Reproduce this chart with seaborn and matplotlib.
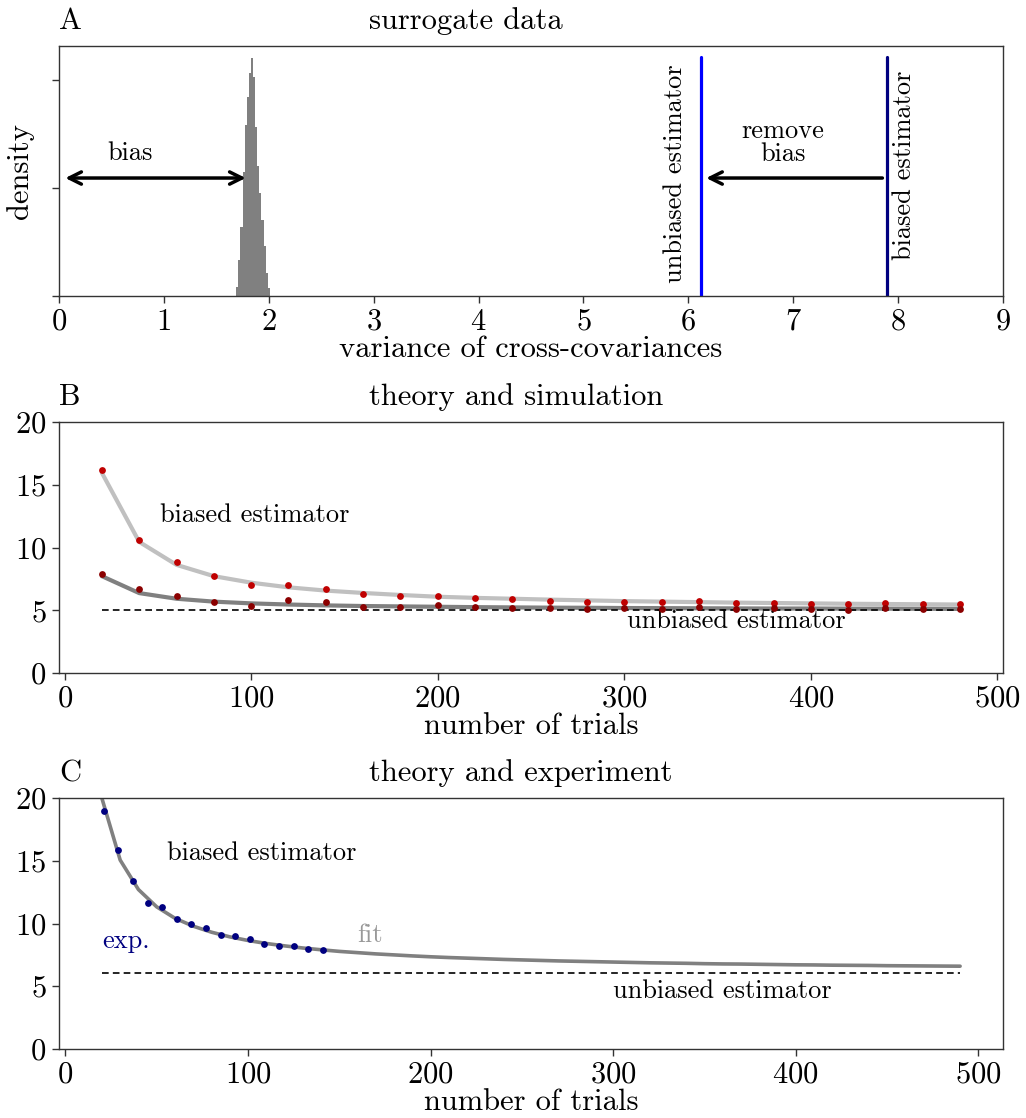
import numpy as np
import pandas as pd
import matplotlib
matplotlib.use('Agg')
import matplotlib.pyplot as plt
import seaborn as sns

# --- panel A: surrogate distribution ---
hist_edges = [1.69, 1.71, 1.73, 1.75, 1.77, 1.79, 1.81, 1.83, 1.85, 1.87,
              1.89, 1.91, 1.93, 1.95, 1.97, 1.99, 2.01]
hist_heights = [0.43, 1.67, 3.2, 5.75, 7.9, 9.2, 10.3, 11.0, 10.15, 7.8,
                6.0, 4.75, 3.5, 2.3, 1.05, 0.35]
unbiased_value = 6.12
biased_value = 7.89

# --- panel B: theory and simulation ---
trials_sim = [20, 40, 60, 80, 100, 120, 140, 160, 180, 200, 220, 240,
              260, 280, 300, 320, 340, 360, 380, 400, 420, 440, 460, 480]
theory_biased = [15.95, 10.45, 8.62, 7.72, 7.2, 6.83, 6.57, 6.38, 6.22, 6.08,
                 5.99, 5.92, 5.85, 5.79, 5.73, 5.69, 5.65, 5.61, 5.58, 5.55,
                 5.52, 5.5, 5.48, 5.46]
theory_second = [7.72, 6.37, 5.92, 5.69, 5.55, 5.46, 5.39, 5.34, 5.31, 5.28,
                 5.25, 5.23, 5.21, 5.2, 5.18, 5.17, 5.16, 5.15, 5.14, 5.14,
                 5.13, 5.13, 5.12, 5.11]
sim_biased = [16.2, 10.64, 8.88, 7.71, 7.05, 7.0, 6.7, 6.27, 6.14, 6.14,
              5.95, 5.88, 5.76, 5.68, 5.7, 5.65, 5.73, 5.58, 5.62, 5.52,
              5.47, 5.55, 5.5, 5.47]
sim_second = [7.92, 6.7, 6.17, 5.66, 5.37, 5.8, 5.66, 5.27, 5.24, 5.4,
              5.24, 5.22, 5.19, 5.07, 5.2, 5.12, 5.29, 5.12, 5.17, 5.12,
              5.05, 5.17, 5.12, 5.1]
sim_unbiased = 5.0

# --- panel C: theory and experiment ---
trials_fit = [20, 30, 40, 50, 60, 70, 80, 90, 100, 110, 120, 130, 140, 150,
              160, 170, 180, 190, 200, 210, 220, 230, 240, 250, 260, 270, 280,
              290, 300, 310, 320, 330, 340, 350, 360, 370, 380, 390, 400, 410,
              420, 430, 440, 450, 460, 470, 480, 490]
fit_values = [19.98, 15.06, 12.71, 11.33, 10.42, 9.79, 9.31, 8.94, 8.65, 8.41,
              8.22, 8.05, 7.91, 7.78, 7.68, 7.58, 7.5, 7.42, 7.35, 7.29, 7.24,
              7.19, 7.14, 7.1, 7.06, 7.02, 6.99, 6.96, 6.93, 6.9, 6.87, 6.85,
              6.83, 6.8, 6.78, 6.77, 6.75, 6.73, 6.71, 6.7, 6.68, 6.67, 6.66,
              6.64, 6.63, 6.62, 6.61, 6.6]
trials_exp = [21, 29, 37, 45, 53, 61, 69, 77, 85, 93, 101, 109, 117, 125, 133, 141]
exp_values = [18.96, 15.88, 13.41, 11.66, 11.29, 10.33, 9.93, 9.64, 9.06, 8.98,
              8.76, 8.39, 8.23, 8.18, 7.94, 7.86]
exp_unbiased = 6.08

sns.set_style('ticks')
plt.rcParams['font.family'] = ['cmr10', 'DejaVu Serif']
plt.rcParams['axes.formatter.use_mathtext'] = True
plt.rcParams['mathtext.fontset'] = 'cm'
plt.rcParams['axes.unicode_minus'] = False
plt.rcParams['text.color'] = 'black'
plt.rcParams['axes.labelcolor'] = 'black'
plt.rcParams['xtick.color'] = 'black'
plt.rcParams['ytick.color'] = 'black'

FS = 22
TXT = 19
TITLE_X = 0.328  # titles start at the same spot in every panel

fig = plt.figure(figsize=(10.26, 11.18), dpi=100)
axA = fig.add_axes([0.0575, 0.7352, 0.9201, 0.2237])
axB = fig.add_axes([0.0575, 0.3980, 0.9201, 0.2245])
axC = fig.add_axes([0.0575, 0.0617, 0.9201, 0.2245])

for ax in (axA, axB, axC):
    for sp in ax.spines.values():
        sp.set_color('#333333')
        sp.set_linewidth(1.0)
    ax.tick_params(labelsize=FS, length=5, width=1, pad=4, color='#333333')

# ---------- A ----------
centers = [(a + b) / 2 for a, b in zip(hist_edges[:-1], hist_edges[1:])]
dfA = pd.DataFrame({'value': centers, 'height': hist_heights})
sns.histplot(data=dfA, x='value', weights='height', bins=hist_edges, color='grey',
             alpha=1, linewidth=0, ax=axA)
axA.axvline(unbiased_value, ymin=0, ymax=0.956, color='#0000ff', lw=2.3)
axA.axvline(biased_value, ymin=0, ymax=0.956, color='#000080', lw=2.3)
axA.set_xlim(0, 9)
axA.set_ylim(0, 11.57)
axA.set_yticks([0, 5, 10])
axA.set_yticklabels([])
axA.set_xticks(range(0, 10))
axA.set_xlabel('variance of cross-covariances', fontsize=FS, labelpad=0)
axA.set_ylabel('density', fontsize=FS)
axA.yaxis.set_label_coords(-0.026, 0.5)
axA.set_title('surrogate data', fontsize=FS, pad=12, x=TITLE_X, ha='left')
axA.set_title('A', loc='left', fontsize=FS, pad=12)
axA.annotate('', xy=(0.06, 5.46), xytext=(1.78, 5.46),
             arrowprops=dict(arrowstyle='<->', lw=2.5, color='black', mutation_scale=22,
                             shrinkA=0, shrinkB=0))
axA.annotate('', xy=(6.17, 5.46), xytext=(7.85, 5.46),
             arrowprops=dict(arrowstyle='->', lw=2.5, color='black', mutation_scale=22,
                             shrinkA=0, shrinkB=0))
axA.text(0.68, 6.6, 'bias', fontsize=TXT, ha='center', va='center')
axA.text(6.9, 7.1, 'remove\nbias', fontsize=TXT, ha='center', va='center',
         linespacing=0.95)
axA.text(5.87, 5.65, 'unbiased estimator', fontsize=TXT, rotation=90,
         ha='center', va='center')
axA.text(8.06, 6.05, 'biased estimator', fontsize=TXT, rotation=90,
         ha='center', va='center')

# ---------- B ----------
dfB = pd.DataFrame({'trials': trials_sim, 'theory_biased': theory_biased,
                    'theory_second': theory_second, 'sim_biased': sim_biased,
                    'sim_second': sim_second})
sns.lineplot(data=dfB, x='trials', y='theory_biased', color='#c0c0c0', lw=3, ax=axB)
sns.lineplot(data=dfB, x='trials', y='theory_second', color='#808080', lw=3, ax=axB)
axB.hlines(sim_unbiased, trials_sim[0], trials_sim[-1], color='black', lw=1.2,
           linestyles=(0, (4, 2.5)))
sns.scatterplot(data=dfB, x='trials', y='sim_biased', color='#c00000', s=24,
                linewidth=0, zorder=5, ax=axB)
sns.scatterplot(data=dfB, x='trials', y='sim_second', color='#8b0000', s=24,
                linewidth=0, zorder=5, ax=axB)
axB.set_ylim(0, 20)
axB.set_yticks([0, 5, 10, 15, 20])
axB.set_xticks([0, 100, 200, 300, 400, 500])
axB.set_xlabel('number of trials', fontsize=FS, labelpad=0)
axB.set_ylabel('')
axB.set_title('theory and simulation', fontsize=FS, pad=12, x=TITLE_X, ha='left')
axB.set_title('B', loc='left', fontsize=FS, pad=12)
axB.text(51, 12.6, 'biased estimator', fontsize=TXT, ha='left', va='center')
axB.text(360, 4.1, 'unbiased estimator', fontsize=TXT, ha='center', va='center')

# ---------- C ----------
dfFit = pd.DataFrame({'trials': trials_fit, 'fit': fit_values})
dfExp = pd.DataFrame({'trials': trials_exp, 'exp': exp_values})
sns.lineplot(data=dfFit, x='trials', y='fit', color='#808080', lw=2.6, ax=axC)
axC.hlines(exp_unbiased, trials_fit[0], trials_fit[-1], color='black', lw=1.2,
           linestyles=(0, (4, 2.5)))
sns.scatterplot(data=dfExp, x='trials', y='exp', color='#000080', s=24,
                linewidth=0, zorder=5, ax=axC)
axC.set_ylim(0, 20)
axC.set_yticks([0, 5, 10, 15, 20])
axC.set_xticks([0, 100, 200, 300, 400, 500])
axC.set_xlabel('number of trials', fontsize=FS, labelpad=0)
axC.set_ylabel('')
axC.set_title('theory and experiment', fontsize=FS, pad=12, x=TITLE_X, ha='left')
axC.set_title('C', loc='left', fontsize=FS, pad=12)
axC.text(55.5, 15.6, 'biased estimator', fontsize=TXT, ha='left', va='center')
axC.text(360, 4.6, 'unbiased estimator', fontsize=TXT, ha='center', va='center')
axC.text(20, 8.6, 'exp.', fontsize=TXT, color='#000080', ha='left', va='center')
axC.text(167, 9.1, 'fit', fontsize=TXT, color='#999999', ha='center', va='center')

fig.savefig('out.png', dpi=100)
